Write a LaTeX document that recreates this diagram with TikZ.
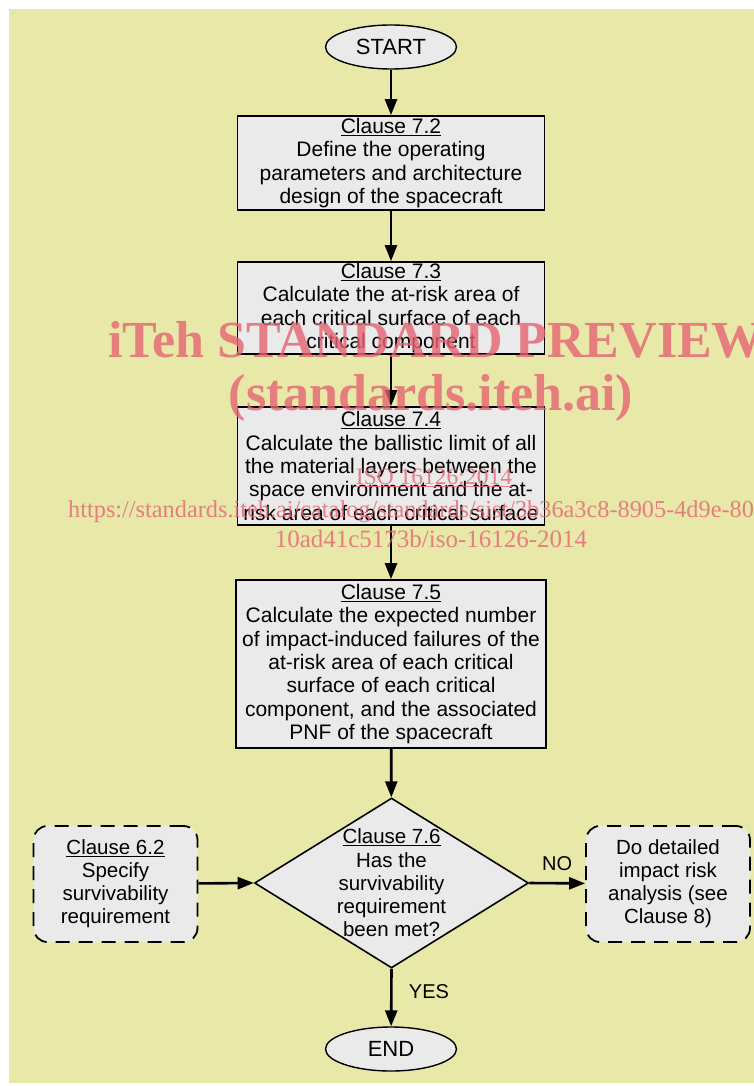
\documentclass[tikz,border=0pt]{standalone}
\usepackage{fontspec}
\setmainfont{Liberation Sans}
\newfontfamily\wmfont{Liberation Serif}
\usepackage{xcolor}
\usetikzlibrary{arrows.meta, positioning, shapes.geometric}
\definecolor{bgyellow}{RGB}{232,232,168}
\definecolor{boxgray}{RGB}{234,234,234}
\definecolor{wmred}{RGB}{230,100,115}

\begin{document}
\begin{tikzpicture}[x=1pt, y=-1pt,
    every node/.style={font=\fontsize{21}{23.4}\selectfont},
    arr/.style = {-{Triangle[length=16pt,width=12pt]}, line width=2.6pt},
    box/.style = {rectangle, draw, line width=1.7pt, fill=boxgray,
                     align=center, minimum width=307pt, inner sep=0pt},
    term/.style = {ellipse, draw, line width=1.4pt, fill=boxgray,
                     minimum width=131pt, minimum height=44pt, inner sep=0pt,
                     font=\fontsize{22}{24}\selectfont},
    dbox/.style = {rectangle, rounded corners=14pt, draw, line width=1.8pt,
                     dash pattern=on 14pt off 9pt, fill=boxgray, align=center,
                     minimum width=164pt, minimum height=116pt, inner sep=0pt,
                     font=\fontsize{20.5}{23}\selectfont},
    dec/.style = {diamond, draw, line width=1.6pt, fill=boxgray,
                     minimum width=274pt, minimum height=170pt, inner sep=0pt},
    wm/.style = {text=wmred, text opacity=0.8, inner sep=0pt,
                     font=\wmfont\bfseries\fontsize{52}{52}\selectfont}
]

\useasboundingbox (0,0) rectangle (754,1086);
\fill[bgyellow] (9,9) rectangle (754,1083);

\node (start) [term] at (391,47) {START};

\node (c72) [box, minimum height=94pt] at (391,163)
  {\underline{Clause 7.2}\\ Define the operating\\ parameters and architecture\\ design of the spacecraft};
\node (c73) [box, minimum height=92pt] at (391,308)
  {\underline{Clause 7.3}\\ Calculate the at-risk area of\\ each critical surface of each\\ critical component};
\node (c74) [box, minimum height=118pt] at (391,466)
  {\underline{Clause 7.4}\\ Calculate the ballistic limit of all\\ the material layers between the\\ space environment and the at-\\ risk area of each critical surface};
\node (c75) [box, minimum width=310pt, minimum height=168pt] at (391,664)
  {\underline{Clause 7.5}\\ Calculate the expected number\\ of impact-induced failures of the\\ at-risk area of each critical\\ surface of each critical\\ component, and the associated\\ PNF of the spacecraft};

\node (c76) [dec, label={[align=center, font=\fontsize{20.5}{23.2}\selectfont]center:{\underline{Clause 7.6}\\ Has the\\ survivability\\ requirement\\ been met?}}] at (391.5,883) {};

\node (c62) [dbox] at (115.5,884)
  {\underline{Clause 6.2}\\ Specify\\ survivability\\ requirement};
\node (c8) [dbox] at (668,884)
  {Do detailed\\ impact risk\\ analysis (see\\ Clause 8)};

\node (end) [term] at (391,1049) {END};

\draw[arr]   (start) -- (c72);
\draw[arr]   (c72) -- (c73);
\draw[arr]   (c73) -- (c74);
\draw[arr]   (c74) -- (c75);
\draw[arr]   (c75) -- (c76);
\draw[arr]   (c62) -- (c76.west);
\draw[arr]   (c76.east) -- (c8) node[midway, above=8pt, font=\fontsize{20}{21}\selectfont] {NO};
\draw[arr]   (c76.south) -- (end) node[pos=0.4, right=13pt, font=\fontsize{20}{21}\selectfont] {YES};

% watermark
\begin{scope}
\clip (0,0) rectangle (754,1086);
\node (wm1) [wm, anchor=base west] at (108,357) {iTeh STANDARD PREVIEW};
\node (wm2) [wm, anchor=base] at (431,410) {(standards.iteh.ai)};
\node (wm3) [wm, anchor=base, font=\wmfont\fontsize{23.5}{24}\selectfont] at (434,484) {\underline{ISO 16126:2014}};
\node (wm4) [wm, anchor=base west, font=\wmfont\fontsize{24.3}{25}\selectfont] at (68,517)
  {https://standards.iteh.ai/catalog/standards/sist/3b36a3c8-8905-4d9e-80};
\node (wm5) [wm, anchor=base, font=\wmfont\fontsize{25}{25}\selectfont] at (431,547)
  {10ad41c5173b/iso-16126-2014};
\end{scope}

\end{tikzpicture}
\end{document}
